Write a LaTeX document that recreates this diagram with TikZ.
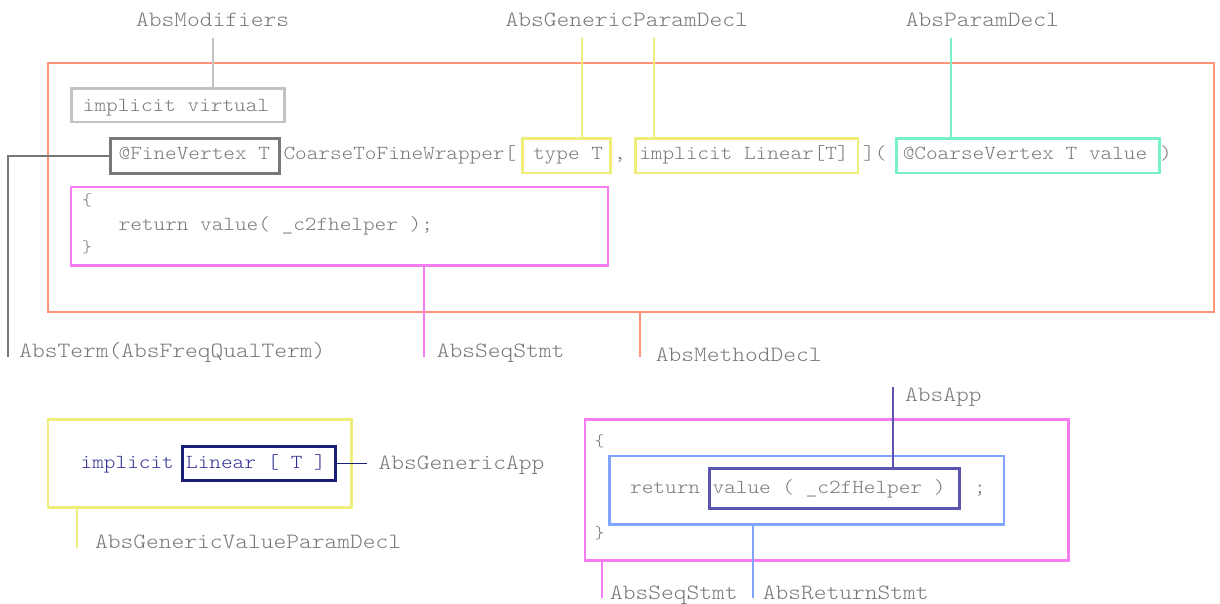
\documentclass[tikz,border=0pt]{standalone}
\usepackage{fontspec}
\newfontfamily\monofam{lmmonolt10-regular.otf}[FakeStretch=1.114]
\definecolor{lblgray}{RGB}{120,120,120}
\definecolor{salmonC}{RGB}{255,148,120}
\definecolor{lightgrayC}{RGB}{194,194,194}
\definecolor{darkgrayC}{RGB}{120,120,120}
\definecolor{yellowC}{RGB}{240,238,122}
\definecolor{tealC}{RGB}{122,242,200}
\definecolor{pinkC}{RGB}{246,124,240}
\definecolor{blueC}{RGB}{128,164,255}
\definecolor{slateC}{RGB}{90,84,174}
\definecolor{navyC}{RGB}{26,30,122}
\definecolor{navytext}{RGB}{50,50,150}
\tikzset{
  abox/.style 2 args={draw=#1, line width=#2, inner sep=0pt, anchor=north west},
  lbl/.style={inner sep=0pt, anchor=base west, text=lblgray,
    font=\monofam\fontsize{21.8}{24}\selectfont},
  code/.style={inner sep=0pt, anchor=base, text=lblgray,
    font=\monofam\fontsize{19.9}{22}\selectfont},
  brace/.style={inner sep=0pt, anchor=base west, text=lblgray,
    font=\monofam\fontsize{17}{19}\selectfont},
  link/.style={line width=1.8pt},
}
\begin{document}
\begin{tikzpicture}[x=1pt,y=-1pt]
\useasboundingbox (0,0) rectangle (1220,603);

% ---- method declaration ----
\node[abox={salmonC}{2.4pt}, minimum width=1166pt, minimum height=249pt] (method) at (46.7,62) {};
\node[abox={lightgrayC}{2.5pt}, minimum width=213.3pt, minimum height=33.4pt] (mods) at (70,87.3) {};
\node[code] at (176,111.5) {implicit virtual};

\node[abox={darkgrayC}{3pt}, minimum width=169pt, minimum height=34.7pt] (fine) at (109.3,137) {};
\node[code] at (194.3,159.3) {@FineVertex T};
\node[code, anchor=base west] at (283.3,159.3) {CoarseToFineWrapper[};
\node[abox={yellowC}{2.5pt}, minimum width=88pt, minimum height=34.4pt] (tparam) at (521,137.3) {};
\node[code] at (568,159.3) {type T};
\node[code] at (620,159.3) {,};
\node[abox={yellowC}{2.5pt}, minimum width=222.4pt, minimum height=34.4pt] (lparam) at (634.3,137.3) {};
\node[code] at (744,159.3) {implicit Linear[T]};
\node[code, anchor=base west] at (863,159.3) {](};
\node[abox={tealC}{2.5pt}, minimum width=263.3pt, minimum height=34.4pt] (vparam) at (895,137.3) {};
\node[code] at (1025,159.3) {@CoarseVertex T value};
\node[code, anchor=base west] at (1160,159.3) {)};

\node[abox={pinkC}{2.4pt}, minimum width=536.7pt, minimum height=78.6pt] (body) at (70,185.7) {};
\node[brace] at (82,205) {\{};
\node[code, anchor=base west] at (118.5,230.5) {return value( \_c2fhelper );};
\node[brace] at (82,252) {\}};

% ---- top labels ----
\node[lbl, anchor=base] (lmods) at (212.5,26) {AbsModifiers};
\node[lbl, anchor=base] (lgen) at (626.7,26) {AbsGenericParamDecl};
\node[lbl, anchor=base] (lpar) at (982.3,26) {AbsParamDecl};
\coordinate (cmods) at (213.3,37.7);
\coordinate (cgen1) at (582,37.7);
\coordinate (cgen2) at (654,37.7);
\coordinate (cpar) at (950.7,37.7);
\draw[link, lightgrayC] (cmods) -- (cmods |- mods.north);
\draw[link, yellowC] (cgen1) -- (cgen1 |- tparam.north);
\draw[link, yellowC] (cgen2) -- (cgen2 |- lparam.north);
\draw[link, tealC] (cpar) -- (cpar |- vparam.north);

% ---- lower labels ----
\node[lbl] (lterm) at (19.3,357.3) {AbsTerm(AbsFreqQualTerm)};
\node[lbl] (lseq) at (436.7,357.3) {AbsSeqStmt};
\node[lbl] (lmeth) at (655.7,361.7) {AbsMethodDecl};
\coordinate (cterm) at (8.3,356.7);
\coordinate (cseq) at (424,356.7);
\coordinate (cmeth) at (639.7,356.7);
\draw[link, darkgrayC] (fine.west) -| (cterm);
\draw[link, pinkC] (cseq |- body.south) -- (cseq);
\draw[link, salmonC] (cmeth |- method.south) -- (cmeth);

% ---- generic value parameter ----
\node[abox={yellowC}{2.5pt}, minimum width=303.3pt, minimum height=87.7pt] (gvp) at (46.7,418.3) {};
\node[code, anchor=base west, text=navytext] at (80.5,468.3) {implicit};
\node[abox={navyC}{3pt}, minimum width=153pt, minimum height=34pt] (gapp) at (181,445) {};
\node[code, text=navytext] at (256,468.3) {Linear [ T ]};
\coordinate (cgapp) at (367.3,461.5);
\draw[link, navyC] (gapp.east) -- (gapp.east -| cgapp);
\node[lbl] (lgapp) at (378.3,469) {AbsGenericApp};
\coordinate (cgvp) at (76.7,547.7);
\draw[link, yellowC] (cgvp |- gvp.south) -- (cgvp);
\node[lbl] (lgvp) at (95,548.3) {AbsGenericValueParamDecl};

% ---- statement sequence ----
\node[abox={pinkC}{2.4pt}, minimum width=483.3pt, minimum height=141pt] (seq) at (584,418.3) {};
\node[brace] at (594.5,446) {\{};
\node[brace] at (594.5,538) {\}};
\node[abox={blueC}{2.5pt}, minimum width=394.7pt, minimum height=68.3pt] (ret) at (608,454.7) {};
\node[code, anchor=base west] at (630,493.3) {return};
\node[abox={slateC}{3pt}, minimum width=250pt, minimum height=40.3pt] (app) at (707.7,466.7) {};
\node[code] at (829,493.3) {value ( \_c2fHelper )};
\node[code] at (980,493.3) {;};

\coordinate (capp) at (893.3,386.7);
\draw[link, slateC] (capp) -- (capp |- app.north);
\node[lbl] (lapp) at (905,401.7) {AbsApp};
\coordinate (cseq2) at (601.7,598.3);
\coordinate (cret) at (752.7,598.3);
\draw[link, pinkC] (cseq2 |- seq.south) -- (cseq2);
\draw[link, blueC] (cret |- ret.south) -- (cret);
\node[lbl] (lseq2) at (610,599) {AbsSeqStmt};
\node[lbl] (lret) at (762.7,599) {AbsReturnStmt};
\end{tikzpicture}
\end{document}
